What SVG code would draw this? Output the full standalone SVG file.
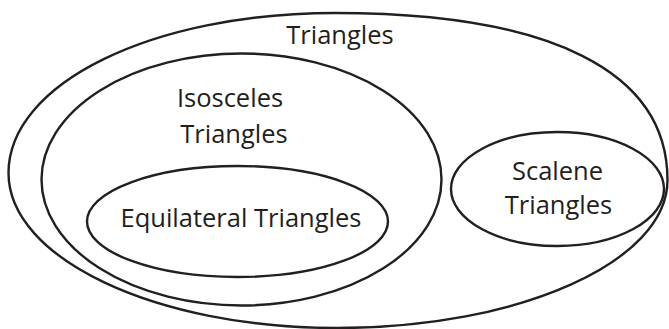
<svg xmlns="http://www.w3.org/2000/svg" width="669" height="329" viewBox="0 0 669 329">
  <style>
    .set { fill: none; stroke: #231f20; stroke-width: 2.4; }
    .label { font-family: "Open Sans", "Noto Sans", "Liberation Sans", sans-serif; font-size: 25.5px; fill: #231f20; text-anchor: middle; }
  </style>
  <rect width="669" height="329" fill="#ffffff"/>
  <g id="triangles">
    <path class="set" d="M8.5,173 C8.5,83.4 152.2,13 335,13 C551,13 667.5,71.5 667.5,180 C667.5,261.7 519.5,328 337,328 C155.6,328 8.5,258.6 8.5,173 Z"/>
    <text class="label" x="340" y="43.5">Triangles</text>
  </g>
  <g id="isosceles">
    <ellipse class="set" cx="241.5" cy="179.5" rx="200" ry="126"/>
    <text class="label" x="230" y="106.5">Isosceles</text>
    <text class="label" x="234" y="142.5">Triangles</text>
  </g>
  <g id="equilateral">
    <ellipse class="set" cx="237.5" cy="221.5" rx="150.5" ry="55.5"/>
    <text class="label" x="241" y="227">Equilateral Triangles</text>
  </g>
  <g id="scalene">
    <ellipse class="set" cx="557.5" cy="189" rx="106.5" ry="57"/>
    <text class="label" x="557.5" y="180">Scalene</text>
    <text class="label" x="558.5" y="214">Triangles</text>
  </g>
  <g id="connectors"/>
</svg>
